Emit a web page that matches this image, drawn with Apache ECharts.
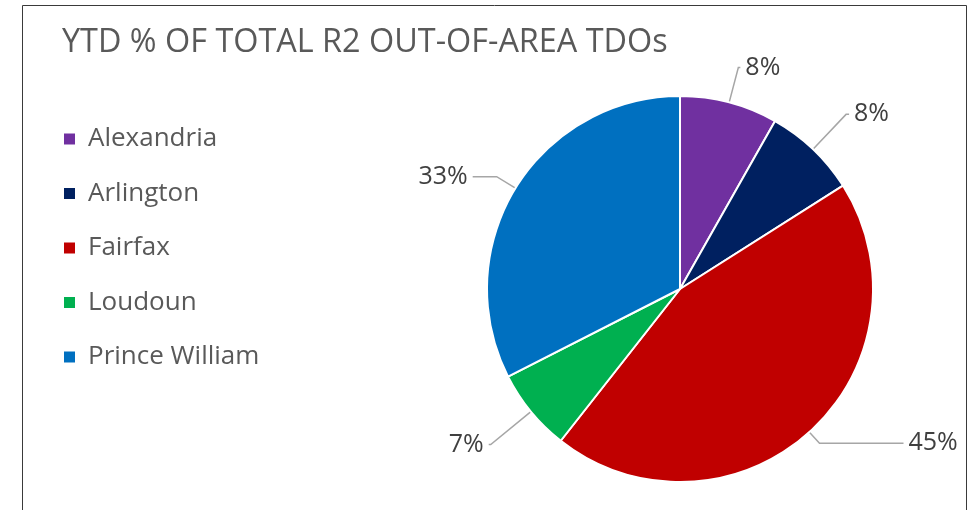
<!DOCTYPE html>
<html>
<head>
<meta charset="utf-8">
<script src="https://cdn.jsdelivr.net/npm/echarts@6/dist/echarts.min.js"></script>
<style>
  html, body { margin: 0; padding: 0; background: #fff; }
  #chart { width: 980px; height: 510px; }
</style>
</head>
<body>
<div id="chart"></div>
<script>
// Share of year-to-date R2 out-of-area TDOs by jurisdiction (percent)
const titleText = 'YTD % OF TOTAL R2 OUT-OF-AREA TDOs';
const jurisdictions = ['Alexandria', 'Arlington', 'Fairfax', 'Loudoun', 'Prince William'];
const shares = [8.2, 7.8, 44.6, 6.9, 32.5];
const sliceColors = ['#7030a0', '#002060', '#c00000', '#00b050', '#0070c0'];
// leader line segment lengths per slice: [radial, horizontal]
const leaderLengths = [[36, 2], [48, 3], [15, 84], [52, 2], [22, 24]];

const total = shares.reduce((a, b) => a + b, 0);
const FONT = '"Open Sans", "Noto Sans", sans-serif';

const chart = echarts.init(document.getElementById('chart'), null, { renderer: 'canvas' });

chart.setOption({
  backgroundColor: '#ffffff',
  animation: false,
  title: {
    text: titleText,
    left: 57,
    top: 22,
    textStyle: { fontFamily: FONT, fontSize: 32.4, fontWeight: 'normal', color: '#595959' }
  },
  legend: {
    orient: 'vertical',
    left: 57,
    top: 119,
    itemWidth: 13,
    itemHeight: 13,
    itemGap: 24.5,
    icon: 'rect',
    data: jurisdictions,
    textStyle: {
      fontFamily: FONT, fontSize: 26, color: '#595959',
      lineHeight: 30, padding: [0, 0, 0, 7]
    }
  },
  graphic: [{
    type: 'rect',
    shape: { x: 22.5, y: 5.5, width: 944, height: 540 },
    style: { fill: 'none', stroke: '#3a3a3a', lineWidth: 1 },
    silent: true,
    z: -1
  }],
  series: [{
    type: 'pie',
    center: [680, 289],
    radius: [0, 193],
    startAngle: 90,
    clockwise: true,
    data: jurisdictions.map((name, i) => ({
      name,
      value: shares[i],
      itemStyle: { color: sliceColors[i] },
      labelLine: { length: leaderLengths[i][0], length2: leaderLengths[i][1] }
    })),
    itemStyle: { borderColor: '#ffffff', borderWidth: 2 },
    label: {
      show: true,
      position: 'outside',
      fontFamily: FONT,
      fontSize: 25,
      color: '#404040',
      formatter: p => Math.round(p.value / total * 100) + '%'
    },
    labelLine: {
      show: true,
      lineStyle: { color: '#a6a6a6', width: 1.5 }
    },
    emphasis: { disabled: true }
  }]
});
</script>
</body>
</html>
